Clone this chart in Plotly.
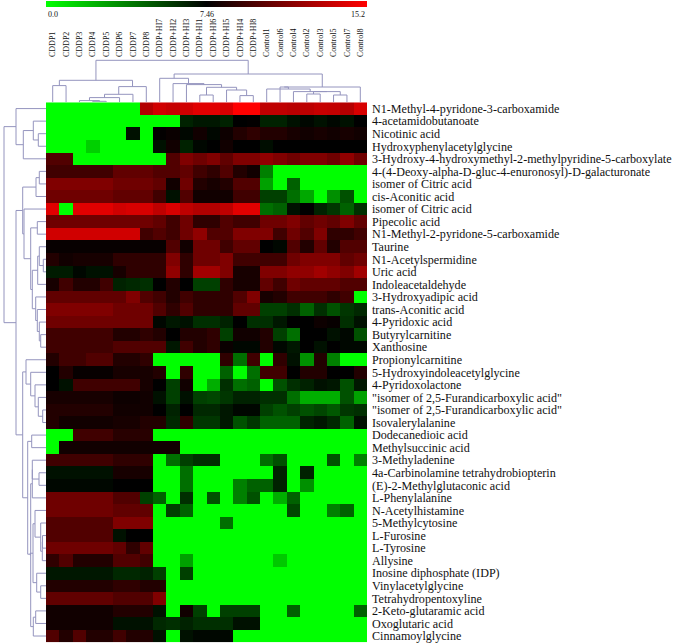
import plotly.graph_objects as go

col_labels = ['CDDP1', 'CDDP2', 'CDDP3', 'CDDP4', 'CDDP5', 'CDDP6', 'CDDP7', 'CDDP8',
              'CDDP+HI7', 'CDDP+HI2', 'CDDP+HI3', 'CDDP+HI1', 'CDDP+HI6', 'CDDP+HI5', 'CDDP+HI4', 'CDDP+HI8',
              'Control1', 'Control6', 'Control4', 'Control2', 'Control3', 'Control5', 'Control7', 'Control8']

row_labels = ['N1-Methyl-4-pyridone-3-carboxamide', '4-acetamidobutanoate', 'Nicotinic acid',
              'Hydroxyphenylacetylglycine', '3-Hydroxy-4-hydroxymethyl-2-methylpyridine-5-carboxylate',
              '4-(4-Deoxy-alpha-D-gluc-4-enuronosyl)-D-galacturonate', 'isomer of Citric acid', 'cis-Aconitic acid',
              'isomer of Citric acid', 'Pipecolic acid', 'N1-Methyl-2-pyridone-5-carboxamide', 'Taurine',
              'N1-Acetylspermidine', 'Uric acid', 'Indoleacetaldehyde', '3-Hydroxyadipic acid', 'trans-Aconitic acid',
              '4-Pyridoxic acid', 'Butyrylcarnitine', 'Xanthosine', 'Propionylcarnitine',
              '5-Hydroxyindoleacetylglycine', '4-Pyridoxolactone', '"isomer of 2,5-Furandicarboxylic acid"',
              '"isomer of 2,5-Furandicarboxylic acid"', 'Isovalerylalanine', 'Dodecanedioic acid',
              'Methylsuccinic acid', '3-Methyladenine', '4a-Carbinolamine tetrahydrobiopterin',
              '(E)-2-Methylglutaconic acid', 'L-Phenylalanine', 'N-Acetylhistamine', '5-Methylcytosine', 'L-Furosine',
              'L-Tyrosine', 'Allysine', 'Inosine diphosphate (IDP)', 'Vinylacetylglycine', 'Tetrahydropentoxyline',
              '2-Keto-glutaramic acid', 'Oxoglutaric acid', 'Cinnamoylglycine']

# one row per metabolite, 0 = green, 7.6 = black, 15.2 = red
heat_values = [
    [0, 0, 0, 0, 0, 0, 0, 12.9, 13.8, 13.5, 13.8, 14.3, 14.3, 14.0, 15.2, 15.2, 13.3, 13.3, 13.1, 13.2, 13.5, 13.4, 13.0, 14.0],
    [0, 0, 0, 0, 0, 0, 0, 0, 0, 0, 6.6, 6.9, 6.9, 6.6, 7.6, 7.7, 6.6, 6.6, 7.1, 7.4, 7.1, 7.4, 7.1, 7.6],
    [0, 0, 0, 0, 0, 0, 7.1, 0, 7.7, 7.9, 7.4, 8.1, 7.4, 8.0, 8.6, 9.0, 8.6, 8.6, 8.3, 8.1, 8.3, 8.1, 8.3, 8.1],
    [0, 0, 0, 1.4, 0, 0, 0, 0, 7.1, 8.1, 6.6, 7.4, 7.6, 8.1, 7.6, 7.6, 7.2, 7.6, 7.6, 7.6, 7.6, 7.6, 7.6, 7.6],
    [10, 10, 0, 0, 0, 0, 0, 0, 0, 10, 11.4, 10.9, 11.4, 10.5, 11.4, 11.4, 11.9, 11.4, 10.9, 11.4, 11.4, 10.9, 11.9, 10.9],
    [9.5, 9.5, 9.5, 9.5, 9.5, 10.5, 10.5, 10.5, 10, 10, 10.5, 9.5, 9, 10, 8.6, 8.1, 3.8, 0, 0, 0, 0, 0, 0, 0],
    [11.4, 11.4, 11.4, 11.4, 11.4, 10.9, 10.9, 10.9, 10.5, 8.1, 10.9, 8.6, 8.3, 8.6, 10, 10, 2.8, 0, 4.7, 0, 0, 0, 0, 0],
    [10.9, 10.9, 10.9, 10.9, 10.9, 10.5, 10.5, 10.5, 9.5, 7.1, 10, 8.1, 8.1, 8.1, 9.5, 9.5, 5.7, 5.7, 4.3, 2.6, 0, 3.3, 5.2, 0],
    [14.3, 0, 14.3, 14.3, 14.3, 13.8, 14.0, 14.0, 13.3, 14.0, 13.3, 12.9, 12.9, 13.3, 14.3, 14.3, 4.3, 4.7, 7.1, 7.6, 6.6, 6.0, 4.7, 6.2],
    [10.9, 10.9, 10.9, 10.9, 10.9, 10.9, 10.9, 10.9, 10.5, 9.5, 10.9, 9, 9, 10, 9.5, 9.5, 10.9, 10.9, 11.4, 10.5, 10.9, 10.5, 11.4, 10.5],
    [13.8, 13.8, 13.8, 13.8, 13.8, 13.8, 13.8, 9.5, 10, 9.5, 10.9, 11.9, 10, 10, 11.4, 11.4, 11.4, 9.5, 10.9, 10, 11.4, 9, 9, 9.5],
    [7.8, 7.8, 7.8, 7.8, 7.8, 7.8, 7.8, 7.8, 7.8, 10, 8.1, 10.9, 10.9, 9.5, 10.5, 10.5, 7.6, 7.4, 10, 8.6, 10.5, 8.6, 10, 10],
    [8.6, 8.1, 8.3, 8.3, 8.3, 9, 9, 9, 9, 11.4, 9, 10.9, 10.9, 11.4, 9.5, 9.5, 9.5, 9.5, 10.9, 11.4, 11.4, 11.4, 10.5, 10.9],
    [6.8, 6.8, 7.4, 7.1, 7.1, 8.3, 9, 9, 9, 11.9, 9, 12.4, 12.4, 11.4, 8.3, 8.3, 11.4, 11.4, 11.9, 11.9, 12.4, 11.9, 11.4, 12.4],
    [8.3, 9.5, 8.6, 8.6, 9.5, 6.6, 6.4, 6.2, 7.6, 8.6, 7.6, 5.7, 5.7, 9, 8.3, 8.3, 10.5, 9.5, 10.9, 10.5, 10.5, 10.5, 10, 10],
    [10.5, 10.5, 10.5, 10.5, 10.5, 10.5, 11.4, 10, 9.5, 8.6, 9.5, 9, 9, 9, 10, 11.4, 8.3, 8.6, 9.5, 9.5, 9.5, 9, 9.5, 0],
    [11.4, 11.4, 11.4, 11.4, 11.4, 10.9, 10.9, 10.9, 10, 9, 10, 9, 9, 9, 10.5, 10.5, 5.7, 5.7, 6.2, 4.7, 6.2, 5.2, 6.0, 6.4],
    [10.9, 10.9, 10.9, 10.9, 10.9, 10.9, 10.9, 10.9, 7.4, 6.9, 7.1, 6.2, 6.2, 6.6, 7.6, 6.2, 6.2, 6.9, 7.6, 7.6, 8.0, 7.8, 6.2, 7.1],
    [9.5, 9.5, 9.5, 9.5, 9.5, 8.6, 8.6, 9, 8.6, 7.6, 8.6, 8.6, 9, 5.7, 8.1, 8.1, 8.6, 5.7, 4.3, 7.6, 7.6, 7.1, 7.4, 5.2],
    [9.5, 9.5, 9.5, 9.5, 9.5, 10, 10, 10, 10, 6.9, 9.5, 8.6, 9, 7.9, 7.4, 7.4, 8.6, 7.4, 6.9, 7.6, 7.1, 7.6, 7.4, 7.4],
    [8.6, 9.5, 9.5, 10, 10, 8.6, 8.6, 9, 0, 0, 0, 0, 0, 9, 4.3, 9.5, 0, 9, 7.1, 3.3, 8.6, 3.8, 0, 0],
    [7.6, 8.6, 7.8, 7.8, 7.8, 8.3, 8.3, 8.3, 8.6, 0, 9, 0, 0, 4.7, 0, 4.3, 9.5, 9.5, 7.6, 8.6, 8.6, 7.6, 7.6, 8.6],
    [7.6, 7.1, 9.5, 9.5, 9.5, 9.5, 9.5, 8.3, 7.6, 5.7, 8.1, 0, 2.4, 6.2, 4.3, 4.7, 0, 5.2, 6.2, 6.6, 7.1, 6.9, 5.2, 6.9],
    [8.3, 8.3, 8.3, 8.3, 8.3, 8.0, 8.0, 8.1, 7.1, 5.7, 7.1, 5.7, 5.5, 6.0, 6.6, 6.6, 6.2, 6.2, 4.3, 2.4, 2.4, 2.4, 5.2, 2.8],
    [8.6, 8.6, 8.6, 8.6, 8.6, 8.1, 8.1, 8.1, 7.6, 6.6, 7.6, 6.4, 6.4, 6.9, 7.4, 7.4, 5.7, 5.2, 5.7, 5.2, 5.5, 5.0, 6.0, 6.2],
    [8.6, 8.1, 8.1, 8.1, 8.1, 8.3, 8.3, 8.6, 8.6, 6.4, 9, 6.0, 6.0, 6.9, 5.2, 6.0, 4.7, 4.7, 4.7, 6.6, 6.9, 6.4, 4.7, 7.1],
    [0, 0, 9.5, 9.5, 9.5, 8.8, 8.8, 8.8, 0, 0, 0, 0, 0, 0, 0, 0, 0, 0, 0, 0, 0, 0, 0, 0],
    [0, 8.1, 8.1, 8.1, 8.1, 8.1, 8.1, 8.1, 8.1, 8.1, 0, 0, 0, 0, 0, 0, 0, 0, 0, 0, 0, 0, 0, 0],
    [9.5, 9.5, 9.5, 9.5, 9.5, 9, 9, 9, 0, 4.3, 5.7, 6.2, 6.2, 0, 0, 0, 4.3, 5.2, 0, 0, 0, 5.2, 0, 3.8],
    [7.1, 7.1, 7.1, 7.1, 7.1, 8.3, 8.3, 8.3, 0, 0, 4.3, 0, 0, 0, 0, 0, 0, 6.6, 0, 6.6, 0, 0, 0, 0],
    [7.4, 7.4, 7.4, 7.4, 7.4, 7.6, 7.6, 7.6, 0, 0, 4.3, 0, 0, 0, 3.8, 4.7, 4.7, 6.6, 0, 3.3, 0, 0, 0, 0],
    [10.9, 10.9, 10.9, 10.9, 10.9, 10, 10, 5.7, 4.7, 0, 6.2, 0, 5.2, 0, 3.8, 5.2, 0, 2.4, 4.7, 0, 0, 0, 0, 0],
    [10.9, 10.9, 10.9, 10.9, 10.9, 10.5, 10.5, 10.5, 0, 5.7, 4.7, 0, 0, 0, 0, 0, 0, 0, 5.5, 0, 0, 3.8, 4.7, 0],
    [10, 10, 10, 10, 10, 11.4, 11.4, 11.4, 0, 0, 0, 0, 0, 4.3, 0, 0, 0, 0, 0, 0, 0, 0, 0, 0],
    [10, 10, 10, 10, 10, 7.1, 7.6, 7.6, 0, 0, 0, 0, 0, 0, 0, 0, 0, 0, 0, 0, 0, 0, 0, 0],
    [10.9, 10.9, 10.9, 10.9, 10.9, 10.5, 9, 10.5, 0, 0, 0, 0, 0, 0, 0, 0, 0, 0, 0, 0, 0, 0, 0, 0],
    [9, 10, 8.6, 8.6, 8.6, 10, 10, 9.5, 0, 0, 2.8, 0, 0, 0, 0, 0, 0, 1.6, 0, 0, 0, 0, 0, 0],
    [6.9, 6.9, 6.9, 6.9, 6.9, 6.4, 6.4, 6.6, 5.7, 0, 5.7, 0, 0, 0, 0, 0, 0, 0, 0, 0, 0, 0, 0, 0],
    [8.6, 8.6, 8.6, 8.6, 8.6, 9, 9, 8.6, 8.6, 0, 0, 0, 0, 0, 0, 0, 0, 0, 0, 0, 0, 0, 0, 0],
    [10.5, 10.5, 10.5, 10.5, 10.5, 10, 10, 10, 11.4, 0, 0, 0, 0, 0, 0, 0, 0, 0, 0, 0, 0, 0, 0, 0],
    [8.1, 8.1, 8.1, 8.1, 8.1, 8.6, 8.6, 8.6, 7.1, 0, 8.1, 5.7, 0, 5.7, 5.7, 5.7, 0, 0, 4.7, 0, 0, 0, 0, 4.7],
    [8.1, 8.1, 8.1, 8.1, 8.1, 7.1, 7.1, 7.1, 6.4, 6.2, 6.6, 6.2, 6.2, 6.2, 7.1, 7.1, 0, 0, 0, 0, 0, 0, 0, 0],
    [10, 8.6, 10, 8.6, 8.6, 9.5, 8.6, 8.6, 7.1, 0, 7.1, 7.4, 7.4, 7.4, 0, 0, 0, 0, 0, 0, 0, 0, 0, 0],
]

# clustering trees as (left, right, height), leaves are row / column numbers
cddp_tree = ((0, 1, 16.7), ((((2, (3, 4, 1), 1.7), 5, 4.7), 6, 8), 7, 15.7), 22)
hi_tree = (8, (9, (10, ((11, 12, 7.3), (13, (14, 15, 6.7), 12.3), 15), 17.7), 18.7), 24)
ctrl_tree = ((17, (16, (18, ((19, 20, 8.3), (21, 22, 7.3), 10.7), 10.7), 13.3), 15.3), 23, 15.3)
col_tree = (cddp_tree, (hi_tree, ctrl_tree, 28.3), 42)

top_rows = (0, ((1, (2, 3, 7.7), 12.7), 4, 22.7), 30)
mid_rows = (((5, 6, 6.7), 7, 10),
            (8, ((9, 10, 8.7),
                 (((11, (12, 13, 2.7), 6.7), 14, 8.3),
                  (15, (16, (17, (18, 19, 5.3), 6.7), 8.7), 10.3), 13.7), 15.3), 22), 23.3)
low_a = (20, (21, (22, (23, (24, 25, 3.3), 7.7), 11), 15.3), 20)
low_b = ((26, 27, 14.3),
         ((((28, (29, 30, 7), 13.7), 31, 13.7), ((40, 41, 10.3), 42, 12.7), 15.3),
          ((32, (33, ((34, 35, 3.5), 36, 3.7), 5.3), 11), (37, (38, 39, 5.3), 9.3), 13), 15.7), 18.3)
row_tree = (top_rows, (mid_rows, (low_a, low_b, 23.3), 30), 42)


def tree_lines(node, xs, ys):
    # walk the tree and return the leaf position of this node
    if isinstance(node, int):
        return node, 0
    p1, h1 = tree_lines(node[0], xs, ys)
    p2, h2 = tree_lines(node[1], xs, ys)
    h = node[2]
    xs += [p1, p1, p2, p2, None]
    ys += [h1, h, h, h2, None]
    return (p1 + p2) / 2, h


W, H = 675, 644
heat_left, heat_right = 46, 367
heat_top, heat_bottom = 102.3, 642.3
dendro_top = 58

fig = go.Figure()

fig.add_trace(go.Heatmap(
    z=heat_values,
    x=list(range(len(col_labels))),
    y=list(range(len(row_labels))),
    xaxis='x', yaxis='y',
    zmin=0, zmax=15.2,
    colorscale=[[0, '#00ff00'], [0.5, '#000000'], [1, '#ff0000']],
    colorbar=dict(orientation='h', x=heat_left / W, xanchor='left', y=1 - 1 / H, yanchor='top',
                  len=(heat_right - heat_left) / W, lenmode='fraction', thickness=6,
                  outlinewidth=0, showticklabels=False, ticks='', xpad=0, ypad=0),
))

# columns tree
cx, cy = [], []
tree_lines(col_tree, cx, cy)
fig.add_trace(go.Scatter(x=cx, y=cy, mode='lines', xaxis='x2', yaxis='y2',
                         line=dict(color='#9494be', width=1), showlegend=False))

# rows tree
ry, rx = [], []
tree_lines(row_tree, ry, rx)
fig.add_trace(go.Scatter(x=rx, y=ry, mode='lines', xaxis='x3', yaxis='y3',
                         line=dict(color='#9494be', width=1), showlegend=False))

x_dom = [heat_left / W, heat_right / W]
y_dom = [1 - heat_bottom / H, 1 - heat_top / H]
x_range = [-0.5, len(col_labels) - 0.5]
y_range = [len(row_labels) - 0.5, -0.5]

fig.update_layout(
    width=W, height=H,
    margin=dict(l=0, r=0, t=0, b=0),
    paper_bgcolor='white', plot_bgcolor='white',
    showlegend=False,
    font=dict(family='Liberation Serif', color='#111111'),
    xaxis=dict(domain=x_dom, range=x_range, showgrid=False, zeroline=False, showticklabels=False, ticks=''),
    yaxis=dict(domain=y_dom, range=y_range, side='right', showgrid=False, zeroline=False, ticks='',
               tickmode='array', tickvals=list(range(len(row_labels))), ticktext=row_labels,
               ticklabelstandoff=4,
               tickfont=dict(size=12.1, family='Liberation Serif')),
    xaxis2=dict(domain=x_dom, range=x_range, anchor='y2', side='top', showgrid=False, zeroline=False, ticks='',
                tickmode='array', tickvals=list(range(len(col_labels))), ticktext=col_labels, tickangle=-90,
                tickfont=dict(size=8, family='Liberation Serif')),
    yaxis2=dict(domain=[1 - heat_top / H, 1 - dendro_top / H], range=[0, heat_top - dendro_top], anchor='x2',
                showgrid=False, zeroline=False, showticklabels=False, ticks=''),
    xaxis3=dict(domain=[0, heat_left / W], range=[heat_left, 0], anchor='y3',
                showgrid=False, zeroline=False, showticklabels=False, ticks=''),
    yaxis3=dict(domain=y_dom, range=y_range, anchor='x3',
                showgrid=False, zeroline=False, showticklabels=False, ticks=''),
)

scale_labels = ['0.0', '7.46', '15.2']
scale_pos = [heat_left, (heat_left + heat_right) / 2, heat_right]
scale_anchor = ['left', 'center', 'right']
for txt, px, anc in zip(scale_labels, scale_pos, scale_anchor):
    fig.add_annotation(text=txt, xref='paper', yref='paper', x=px / W, y=1 - 14.5 / H,
                       xanchor=anc, yanchor='middle', showarrow=False,
                       font=dict(size=8, family='Liberation Serif'))

# the page has a default body margin, the chart has to start at the window corner
fig.write_html("out.html", config={'displayModeBar': False}, post_script="document.body.style.margin = '0';")
